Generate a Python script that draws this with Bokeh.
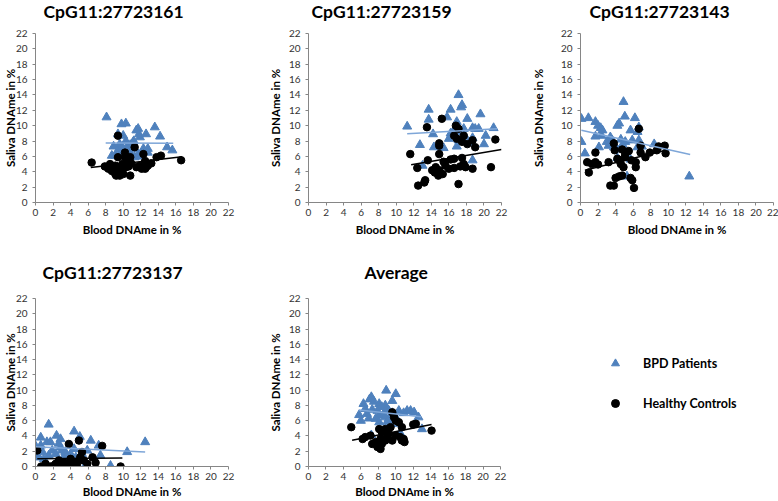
from bokeh.plotting import figure
from bokeh.layouts import row, column
from bokeh.models import Range1d, FixedTicker, Title, Legend, LegendItem
from bokeh.embed import file_html
from bokeh.resources import INLINE

# ---------------- data ----------------
TICKS = [0, 2, 4, 6, 8, 10, 12, 14, 16, 18, 20, 22]
TITLES = ["CpG11:27723161", "CpG11:27723159", "CpG11:27723143", "CpG11:27723137", "Average"]
SERIES = ["BPD Patients", "Healthy Controls"]
X_LABEL = "Blood DNAme in %"
Y_LABEL = "Saliva DNAme in %"

# CpG11:27723161
bpd1_x = [8.1, 9.8, 10.3, 9.4, 10.0, 8.9, 11.1, 11.5, 11.7, 11.8, 11.9, 12.6, 13.6, 14.2, 15.0, 15.6, 9.1, 9.4, 9.6, 10.4, 10.8, 11.1, 11.3, 11.7, 12.3, 12.8, 12.8, 8.7, 9.9, 10.8, 12.0, 9.8, 11.2, 10.3]
bpd1_y = [11.1, 10.2, 10.3, 8.9, 8.7, 7.3, 7.8, 9.4, 9.6, 8.9, 8.5, 8.9, 9.8, 8.6, 7.2, 6.8, 6.1, 6.8, 7.6, 7.2, 6.5, 7.0, 5.9, 6.3, 7.0, 7.0, 6.5, 6.1, 7.2, 7.5, 6.0, 6.5, 8.0, 8.0]
hc1_x = [6.4, 7.9, 8.3, 8.7, 9.1, 9.2, 9.4, 9.6, 9.8, 10.0, 10.3, 10.6, 10.8, 10.9, 9.4, 9.4, 10.2, 10.8, 11.3, 11.5, 11.9, 12.3, 12.5, 12.6, 12.8, 13.2, 13.8, 14.3, 16.6, 8.5, 8.9, 9.2, 9.7, 9.9, 10.2, 10.4, 10.0, 9.6, 9.1, 12.1, 12.5]
hc1_y = [5.2, 4.7, 4.4, 4.1, 3.7, 3.5, 3.7, 3.5, 3.9, 4.4, 4.6, 4.7, 3.5, 5.1, 8.7, 5.9, 6.5, 5.9, 7.2, 4.6, 4.8, 6.3, 4.4, 4.6, 4.8, 5.1, 5.9, 6.1, 5.5, 5.0, 4.6, 4.4, 4.7, 5.0, 5.9, 5.4, 3.7, 4.1, 4.8, 4.4, 5.4]
trend1_bpd_x = [8.0, 15.7]
trend1_bpd_y = [7.75, 7.7]
trend1_hc_x = [6.3, 16.7]
trend1_hc_y = [4.55, 5.95]

# CpG11:27723159
bpd2_x = [17.1, 17.5, 17.4, 13.7, 16.2, 19.6, 15.8, 13.7, 18.1, 16.9, 11.25, 16.8, 18.7, 19.0, 19.4, 21.1, 14.2, 16.2, 17.5, 17.9, 16.0, 17.1, 18.7, 20.2, 12.7, 14.3, 15.4, 16.9, 18.5, 20.0, 13.0, 18.7, 17.7, 16.6]
bpd2_y = [14.0, 12.7, 12.4, 12.1, 12.1, 11.5, 11.1, 10.8, 10.9, 10.5, 9.9, 9.8, 9.7, 9.6, 9.6, 9.7, 8.9, 9.0, 9.2, 8.5, 8.3, 8.1, 8.4, 8.7, 7.5, 7.2, 7.1, 7.3, 7.8, 7.6, 4.8, 5.5, 9.6, 9.4]
hc2_x = [15.2, 13.5, 16.8, 17.1, 16.6, 17.7, 16.9, 17.5, 18.1, 14.9, 21.3, 11.6, 14.9, 19.0, 18.7, 12.4, 13.6, 14.5, 14.9, 15.0, 13.3, 13.2, 12.5, 15.6, 16.0, 16.6, 17.3, 17.7, 17.9, 18.7, 20.8, 17.1, 16.2, 16.6, 17.5, 14.9, 15.4, 14.1, 14.4, 14.8, 15.3]
hc2_y = [10.9, 9.8, 10.0, 9.6, 8.7, 8.7, 8.3, 7.9, 7.6, 7.4, 8.2, 6.3, 6.3, 7.2, 8.1, 4.5, 5.5, 4.6, 4.2, 3.7, 2.9, 2.6, 2.2, 4.8, 4.4, 4.5, 4.7, 5.0, 4.6, 4.4, 4.6, 2.4, 5.6, 5.7, 5.8, 7.7, 5.3, 4.2, 3.9, 3.5, 3.7]
trend2_bpd_x = [11.25, 21.5]
trend2_bpd_y = [8.95, 9.6]
trend2_hc_x = [11.7, 22.0]
trend2_hc_y = [4.9, 6.9]

# CpG11:27723143
bpd3_x = [0.1, 0.9, 4.9, 5.05, 6.2, 1.7, 2.0, 2.3, 2.5, 4.4, 4.2, 6.65, 5.7, 6.5, 0.1, 1.7, 2.4, 3.4, 3.0, 3.6, 4.6, 5.1, 5.9, 6.65, 0.5, 2.1, 3.2, 3.8, 4.2, 4.8, 6.5, 7.0, 8.4, 5.3, 12.4, 5.7, 4.2]
bpd3_y = [10.9, 11.0, 13.1, 11.2, 11.0, 10.5, 10.0, 9.7, 9.4, 10.3, 10.0, 9.8, 9.4, 9.2, 7.9, 8.6, 8.7, 8.5, 7.9, 8.1, 8.2, 7.9, 8.1, 8.1, 6.4, 7.2, 7.4, 7.2, 6.9, 7.55, 7.2, 7.3, 7.6, 3.4, 3.4, 5.6, 5.8]
hc3_x = [0.76, 0.95, 1.7, 2.0, 1.3, 3.9, 3.8, 4.75, 5.1, 5.5, 5.05, 4.2, 4.4, 4.6, 5.8, 6.3, 6.65, 6.85, 7.4, 8.7, 9.6, 9.7, 6.3, 3.4, 3.8, 4.0, 4.4, 4.75, 5.7, 5.9, 6.1, 4.9, 3.2, 1.7, 7.9, 8.9, 6.85]
hc3_y = [5.25, 3.9, 6.5, 4.95, 5.0, 6.8, 7.7, 6.9, 6.3, 6.7, 5.9, 5.7, 5.5, 5.0, 5.5, 5.25, 9.6, 6.5, 5.9, 6.8, 7.4, 6.4, 4.6, 2.2, 2.2, 3.2, 3.4, 3.5, 3.2, 2.9, 1.9, 4.6, 5.25, 5.25, 6.5, 7.3, 7.4]
trend3_bpd_x = [0.1, 12.5]
trend3_bpd_y = [9.4, 6.25]
trend3_hc_x = [0.5, 9.7]
trend3_hc_y = [4.2, 6.8]

# CpG11:27723137
bpd4_x = [1.5, 0.6, 1.3, 1.7, 2.4, 2.85, 4.4, 5.05, 6.3, 7.2, 12.5, 10.45, 8.55, 5.6, 0.0, 0.0, 0.4, 0.8, 0.95, 1.5, 1.9, 2.3, 2.65, 2.85, 3.0, 3.2, 3.4, 3.6, 4.0, 4.4, 4.6, 4.75, 5.3, 5.9, 7.4, 0.6]
bpd4_y = [5.5, 3.8, 3.2, 3.2, 4.05, 3.6, 4.6, 3.9, 3.4, 2.75, 3.2, 1.9, 0.1, 0.0, 2.7, 1.45, 1.2, 1.9, 1.0, 1.45, 2.1, 1.65, 3.0, 2.5, 2.1, 1.2, 1.9, 0.8, 1.65, 2.3, 1.2, 0.8, 1.65, 2.1, 1.45, 2.75]
hc4_x = [0.2, 0.65, 1.15, 2.1, 2.3, 2.65, 3.05, 3.2, 3.6, 3.8, 4.2, 4.4, 4.75, 4.95, 5.1, 5.3, 5.5, 5.9, 6.5, 6.85, 7.6, 9.7, 3.4, 4.0, 1.7]
hc4_y = [2.1, 0.0, 0.35, 0.1, 0.35, 0.8, 0.1, 0.55, 0.35, 2.95, 0.1, 0.55, 0.35, 3.4, 1.2, 1.9, 0.8, 0.35, 1.2, 0.5, 2.7, 0.0, 0.0, 1.0, 0.0]
trend4_bpd_x = [0.0, 12.5]
trend4_bpd_y = [2.6, 1.9]
trend4_hc_x = [0.2, 9.9]
trend4_hc_y = [1.0, 1.1]

# Average
bpd5_x = [8.9, 10.0, 7.2, 7.0, 7.5, 6.3, 9.6, 8.1, 8.8, 8.4, 6.5, 7.3, 5.8, 6.7, 7.9, 9.0, 9.2, 10.35, 11.3, 11.7, 12.1, 9.6, 10.9, 8.6, 8.1, 6.0, 6.9, 7.7, 8.8, 9.2, 10.0, 12.6, 8.1, 9.0, 10.35, 13.0, 10.5, 9.4, 7.2]
bpd5_y = [9.95, 9.5, 9.1, 8.8, 8.5, 8.2, 8.6, 8.2, 8.0, 7.8, 7.55, 7.45, 6.75, 6.9, 7.3, 7.55, 7.3, 7.3, 7.3, 7.3, 7.1, 7.0, 7.0, 6.9, 6.7, 6.0, 6.3, 6.25, 6.45, 6.25, 6.45, 6.45, 5.8, 5.8, 5.6, 4.9, 4.4, 5.6, 4.1]
hc5_x = [4.9, 8.1, 9.6, 9.8, 10.0, 10.35, 10.7, 9.4, 8.8, 8.4, 9.2, 10.0, 10.5, 10.9, 12.0, 12.3, 14.1, 7.1, 6.5, 6.2, 7.3, 7.7, 8.25, 8.1, 8.25, 7.9, 8.8, 9.6, 10.7, 11.0, 8.4, 9.0]
hc5_y = [5.15, 4.9, 7.1, 6.45, 6.0, 5.8, 5.15, 5.15, 4.9, 4.5, 4.3, 4.05, 3.85, 3.6, 5.5, 5.6, 4.7, 4.05, 3.85, 3.6, 2.95, 3.2, 3.6, 2.75, 2.3, 2.55, 3.4, 3.4, 3.4, 3.2, 2.95, 3.85]
trend5_bpd_x = [5.8, 12.9]
trend5_bpd_y = [7.4, 6.5]
trend5_hc_x = [5.0, 14.1]
trend5_hc_y = [3.45, 5.5]

# ---------------- styling ----------------
BLUE = "#4F81BD"
TREND_BLUE = "#7EA6D8"
AXIS_GREY = "#868686"
FONT = "Lato"
TRI_SIZE = 9
CIRC_SIZE = 7.5


def make_panel(title, bx, by, hx, hy, tb, th, width, height, left, right, top, bottom,
               title_offset, title_standoff, ylab_standoff, xtick_standoff, xlab_standoff):
    p = figure(width=width, height=height, x_range=Range1d(0, 22), y_range=Range1d(0, 22),
               output_backend="svg", toolbar_location=None,
               min_border_left=left, min_border_right=right,
               min_border_top=top, min_border_bottom=bottom)
    p.outline_line_color = None
    p.grid.visible = False
    p.background_fill_color = "white"
    p.border_fill_color = "white"
    for ax in (p.xaxis[0], p.yaxis[0]):
        ax.ticker = FixedTicker(ticks=TICKS)
        ax.axis_line_color = AXIS_GREY
        ax.major_tick_line_color = AXIS_GREY
        ax.major_tick_out = 3
        ax.major_tick_in = 0
        ax.minor_tick_line_color = None
        ax.major_label_text_font = FONT
        ax.major_label_text_font_size = "10px"
        ax.major_label_text_color = "#333333"
        ax.axis_label_text_font = FONT
        ax.axis_label_text_font_style = "bold"
        ax.axis_label_text_font_size = "11.5px"
        ax.axis_label_text_color = "black"
    p.xaxis.axis_label = X_LABEL
    p.yaxis.axis_label = Y_LABEL
    p.yaxis.major_label_standoff = 5
    p.yaxis.axis_label_standoff = ylab_standoff
    p.xaxis.major_label_standoff = xtick_standoff
    p.xaxis.axis_label_standoff = xlab_standoff

    p.scatter(bx, by, marker="triangle", size=TRI_SIZE, fill_color=BLUE, line_color=BLUE)
    p.scatter(hx, hy, marker="circle", size=CIRC_SIZE, fill_color="black", line_color="black")
    p.line(tb[0], tb[1], line_color=TREND_BLUE, line_width=1.5)
    p.line(th[0], th[1], line_color="black", line_width=1.5)

    p.add_layout(Title(text=title, align="left", offset=title_offset,
                       vertical_align="top", standoff=title_standoff,
                       text_font=FONT, text_font_style="bold",
                       text_font_size="17.5px", text_color="black"), "above")
    return p


# top row: figures start 10px above the page, frames at y 33..202
p1 = make_panel(TITLES[0], bpd1_x, bpd1_y, hc1_x, hc1_y,
                (trend1_bpd_x, trend1_bpd_y), (trend1_hc_x, trend1_hc_y),
                260, 260, 34, 32, 43, 48, 8, 20, -4, 3, 4)
p2 = make_panel(TITLES[1], bpd2_x, bpd2_y, hc2_x, hc2_y,
                (trend2_bpd_x, trend2_bpd_y), (trend2_hc_x, trend2_hc_y),
                258, 260, 48, 17, 43, 48, 3, 20, 4, 3, 4)
p3 = make_panel(TITLES[2], bpd3_x, bpd3_y, hc3_x, hc3_y,
                (trend3_bpd_x, trend3_bpd_y), (trend3_hc_x, trend3_hc_y),
                260, 260, 62, 5, 43, 48, 9, 20, 13, 3, 4)
# bottom row: frames at y 298..466
p4 = make_panel(TITLES[3], bpd4_x, bpd4_y, hc4_x, hc4_y,
                (trend4_bpd_x, trend4_bpd_y), (trend4_hc_x, trend4_hc_y),
                260, 254, 35, 32, 51, 35, 7, 28, -4, 3, 2)
p5 = make_panel(TITLES[4], bpd5_x, bpd5_y, hc5_x, hc5_y,
                (trend5_bpd_x, trend5_bpd_y), (trend5_hc_x, trend5_hc_y),
                258, 254, 48, 18, 51, 35, 56, 28, 4, 3, 2)

# legend panel (own figure, no axes); its marker renderers hold the series
# data but the view range excludes them, so only the legend swatches show
pl = figure(width=260, height=254, x_range=Range1d(0, 1), y_range=Range1d(0, 1),
            output_backend="svg", toolbar_location=None,
            x_axis_location=None, y_axis_location=None,
            min_border_left=0, min_border_right=0, min_border_top=0, min_border_bottom=0)
pl.outline_line_color = None
pl.grid.visible = False
pl.border_fill_color = "white"
leg_tri = pl.scatter(bpd5_x, bpd5_y, marker="triangle", size=TRI_SIZE, fill_color=BLUE, line_color=BLUE)
leg_circ = pl.scatter(hc5_x, hc5_y, marker="circle", size=CIRC_SIZE, fill_color="black", line_color="black")
legend = Legend(items=[LegendItem(label=SERIES[0], renderers=[leg_tri]),
                       LegendItem(label=SERIES[1], renderers=[leg_circ])],
                location=(87, 53), orientation="vertical",
                glyph_width=20, glyph_height=20, label_standoff=18, spacing=20,
                padding=0, margin=0, border_line_color=None, background_fill_alpha=0,
                label_text_font=FONT, label_text_font_style="bold",
                label_text_font_size="12.5px", label_text_color="black", label_height=20)
pl.add_layout(legend)

top_row = row(p1, p2, p3, margin=(-10, 0, 0, 0))
bottom_row = row(p4, p5, pl, margin=(-3, 0, 0, 0))
layout = column(top_row, bottom_row)

open("out.html", "w").write(file_html(layout, INLINE))
